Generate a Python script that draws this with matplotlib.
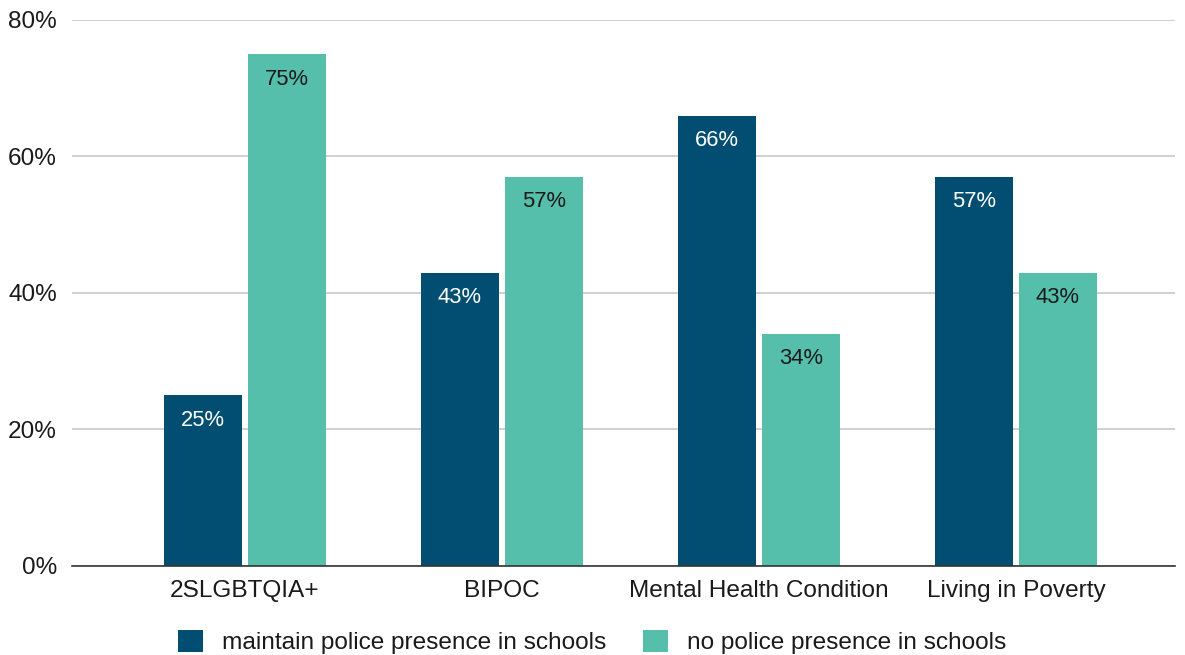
import matplotlib.pyplot as plt
import numpy as np
from matplotlib.ticker import FuncFormatter

plt.rcParams["font.family"] = ["Liberation Sans", "DejaVu Sans"]

groups = ["2SLGBTQIA+", "BIPOC", "Mental Health Condition", "Living in Poverty"]
maintain = [25, 43, 66, 57]
no_police = [75, 57, 34, 43]
series_names = ["maintain police presence in schools", "no police presence in schools"]

NAVY = "#024e72"
TEAL = "#55bfac"

fig = plt.figure(figsize=(11.85, 6.55), dpi=100)
ax = fig.add_axes([0.0608, 0.1359, 0.9308, 0.8336])

x = np.arange(len(groups))
width = 0.307
offset = 0.1635

b1 = ax.bar(x - offset, maintain, width, color=NAVY, label=series_names[0], zorder=3)
b2 = ax.bar(x + offset, no_police, width, color=TEAL, label=series_names[1], zorder=3)

# value labels sit just inside the top of each bar
for bars, vals, tc in ((b1, maintain, "white"), (b2, no_police, "#1a1a1a")):
    for rect, v in zip(bars, vals):
        ax.annotate(f"{v}%", (rect.get_x() + rect.get_width() / 2, v),
                    xytext=(0, -18), textcoords="offset points",
                    ha="center", va="center", fontsize=15.8, color=tc, zorder=4)

ax.set_ylim(0, 80)
ax.set_yticks([0, 20, 40, 60, 80])
ax.yaxis.set_major_formatter(FuncFormatter(lambda v, _: f"{v:.0f}%"))
ax.set_xlim(-0.673, 3.619)
ax.set_xticks(x)
ax.set_xticklabels(groups)

ax.grid(axis="y", color="#c8c8c8", linewidth=1.2, zorder=0)
for side in ("top", "right", "left"):
    ax.spines[side].set_visible(False)
ax.spines["bottom"].set_color("#333333")
ax.spines["bottom"].set_linewidth(1.2)
ax.spines["bottom"].set_zorder(5)

ax.tick_params(axis="y", length=0, pad=11, labelsize=17.6, labelcolor="#1a1a1a")
ax.tick_params(axis="x", length=0, pad=10, labelsize=17.6, labelcolor="#1a1a1a")

fig.legend(handles=[b1, b2], loc="center", bbox_to_anchor=(0.5, 0.02),
           ncol=2, frameon=False, fontsize=17.6, handlelength=1.0,
           handleheight=1.0, handletextpad=0.8, columnspacing=1.5,
           labelcolor="#1a1a1a")

fig.savefig("out.png", dpi=100, facecolor="white")
